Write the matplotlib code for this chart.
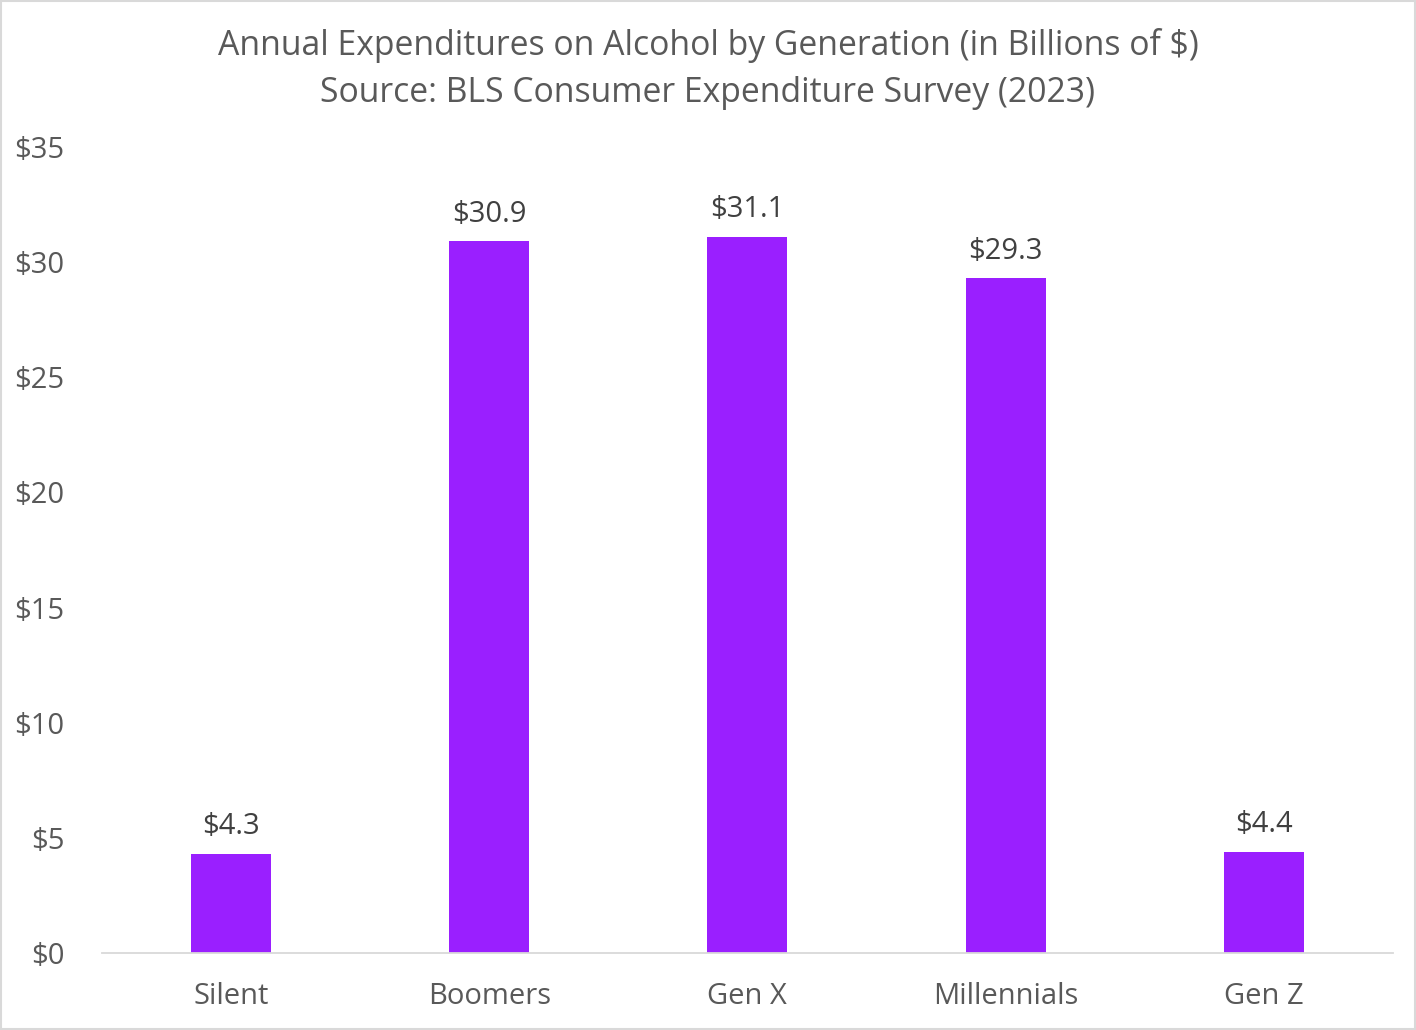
import matplotlib
matplotlib.use('Agg')
import matplotlib.pyplot as plt

# data
generations = ['Silent', 'Boomers', 'Gen X', 'Millennials', 'Gen Z']
spending = [4.3, 30.9, 31.1, 29.3, 4.4]
y_ticks = [0, 5, 10, 15, 20, 25, 30, 35]

bar_color = '#9A1FFF'
text_gray = '#595959'
label_gray = '#404040'

plt.rcParams['font.family'] = ['Open Sans', 'DejaVu Sans']

fig = plt.figure(figsize=(14.16, 10.30), dpi=100)
ax = fig.add_axes([0.072, 0.0748, 0.9117, 0.7825])

x = range(len(generations))
bars = ax.bar(x, spending, width=0.31, color=bar_color, zorder=2)

# value labels above each bar
for rect, val in zip(bars, spending):
    ax.annotate('${:.1f}'.format(val),
                (rect.get_x() + rect.get_width() / 2, rect.get_height()),
                xytext=(0, 9), textcoords='offset points',
                ha='center', va='bottom', fontsize=21, color=label_gray)

ax.set_xlim(-0.5, len(generations) - 0.5)
ax.set_ylim(0, 35)
ax.set_yticks(y_ticks)
ax.set_yticklabels(['${}'.format(t) for t in y_ticks])
ax.set_xticks(list(x))
ax.set_xticklabels(generations)
ax.tick_params(axis='both', length=0, labelsize=21, colors=text_gray)
ax.tick_params(axis='y', pad=27)
ax.tick_params(axis='x', pad=21)

for side in ('top', 'right', 'left'):
    ax.spines[side].set_visible(False)
ax.spines['bottom'].set_color('#D9D9D9')
ax.spines['bottom'].set_linewidth(1.3)

fig.text(0.5, 0.956, 'Annual Expenditures on Alcohol by Generation (in Billions of $)',
         ha='center', va='center', fontsize=24.3, color=text_gray)
fig.text(0.5, 0.910, 'Source: BLS Consumer Expenditure Survey (2023)',
         ha='center', va='center', fontsize=24.3, color=text_gray)

# light border round the whole chart
fig.patches.append(plt.Rectangle((0.001, 0.001), 0.998, 0.998, transform=fig.transFigure,
                                 fill=False, edgecolor='#D9D9D9', linewidth=1.5))

fig.savefig('out.png', dpi=100)
plt.close(fig)
